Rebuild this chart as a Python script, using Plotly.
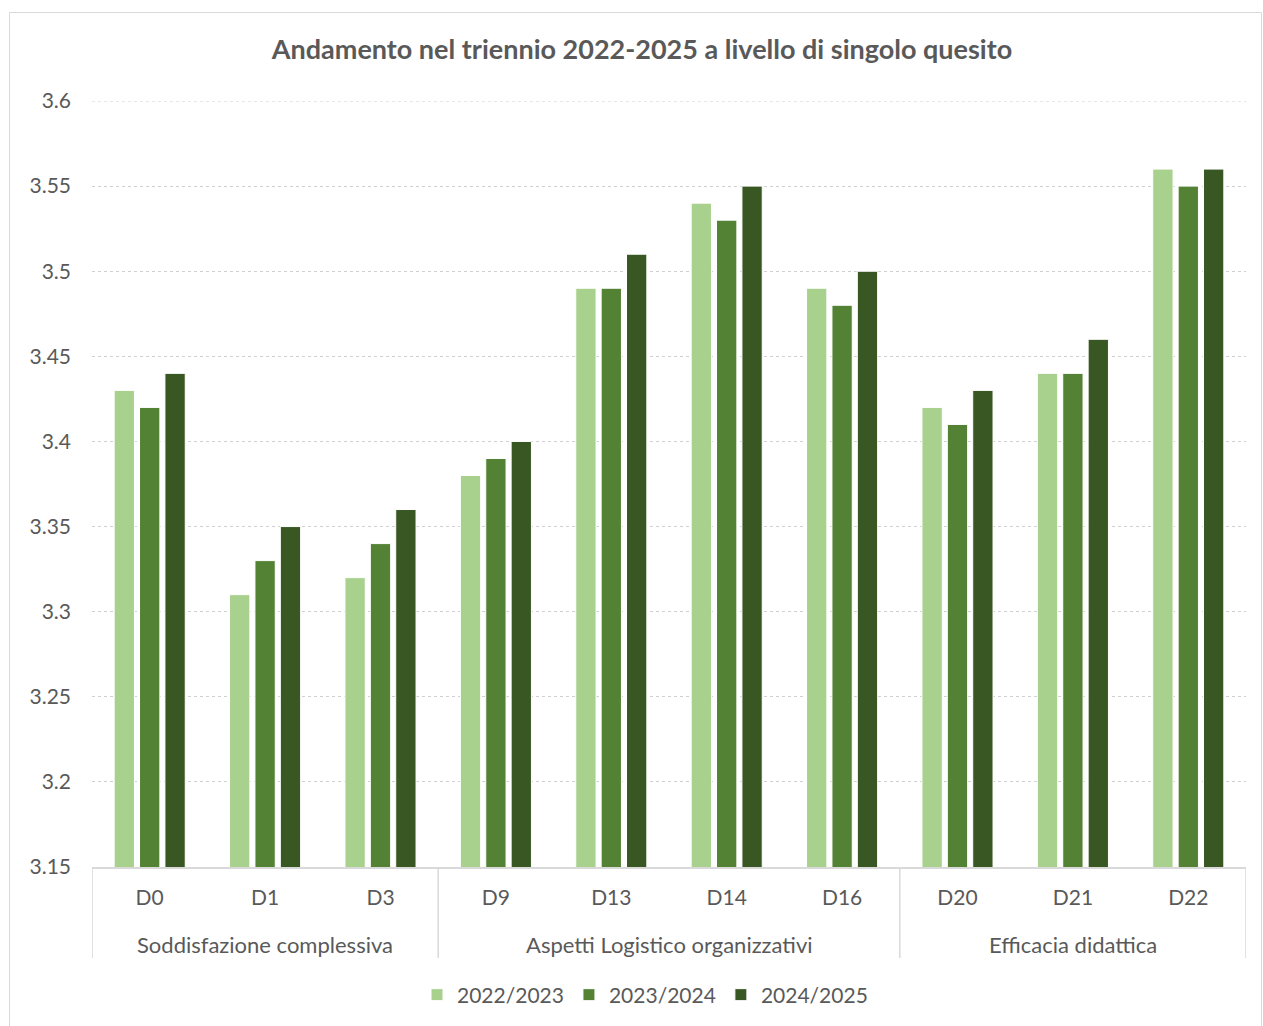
import plotly.graph_objects as go

categories = ["D0", "D1", "D3", "D9", "D13", "D14", "D16", "D20", "D21", "D22"]
groups = ["Soddisfazione complessiva", "Aspetti Logistico organizzativi", "Efficacia didattica"]
group_members = [["D0", "D1", "D3"], ["D9", "D13", "D14", "D16"], ["D20", "D21", "D22"]]
series_names = ["2022/2023", "2023/2024", "2024/2025"]
v2022 = [3.43, 3.31, 3.32, 3.38, 3.49, 3.54, 3.49, 3.42, 3.44, 3.56]
v2023 = [3.42, 3.33, 3.34, 3.39, 3.49, 3.53, 3.48, 3.41, 3.44, 3.55]
v2024 = [3.44, 3.35, 3.36, 3.40, 3.51, 3.55, 3.50, 3.43, 3.46, 3.56]
ytick_vals = [3.15, 3.2, 3.25, 3.3, 3.35, 3.4, 3.45, 3.5, 3.55, 3.6]
ytick_text = ["3.15", "3.2", "3.25", "3.3", "3.35", "3.4", "3.45", "3.5", "3.55", "3.6"]
title = "Andamento nel triennio 2022-2025 a livello di singolo quesito"

colors = ["#A9D18E", "#548235", "#385723"]
FONT = "Lato"
GREY = "#595959"
GRID = "#D0D0D0"

W, H = 1263, 1026
L, R, T, B = 92, 17, 101, 159
pw, ph = W - L - R, H - T - B

def px2paper_x(x):
    return (x - L) / pw

def px2paper_y(y):
    return (H - B - y) / ph

fig = go.Figure()
for name, vals, c in zip(series_names, [v2022, v2023, v2024], colors):
    fig.add_trace(go.Bar(x=categories, y=vals, name=name, marker=dict(color=c, line=dict(color="white", width=1))))

shapes = []
# outer chart border
shapes.append(dict(type="rect", xref="paper", yref="paper",
                   x0=px2paper_x(9.5), x1=px2paper_x(1261.5), y0=px2paper_y(1030), y1=px2paper_y(12.5),
                   line=dict(color="#D9D9D9", width=1), fillcolor="rgba(0,0,0,0)", layer="below"))
# top gridline (at the range edge)
shapes.append(dict(type="line", xref="paper", yref="y", x0=0, x1=1, y0=ytick_vals[-1], y1=ytick_vals[-1],
                   line=dict(color=GRID, width=1.2, dash="dot"), layer="below"))
# group dividers on category axis
ybot = px2paper_y(958)
boundaries = [-0.5]
idx = 0
for g in group_members:
    idx += len(g)
    boundaries.append(idx - 0.5)
for b in boundaries:
    shapes.append(dict(type="line", xref="x", yref="paper", x0=b, x1=b, y0=0, y1=ybot,
                       line=dict(color="#D9D9D9", width=1.5)))

annotations = []
start = 0
for gname, g in zip(groups, group_members):
    center = start + (len(g) - 1) / 2
    annotations.append(dict(x=center, xref="x", y=px2paper_y(944), yref="paper", text=gname,
                            showarrow=False, font=dict(family=FONT, size=22, color=GREY),
                            xanchor="center", yanchor="middle"))
    start += len(g)

fig.update_layout(
    width=W, height=H,
    margin=dict(l=L, r=R, t=T, b=B, autoexpand=False),
    paper_bgcolor="white", plot_bgcolor="white",
    font=dict(family=FONT, color=GREY),
    title=dict(text="<b>" + title + "</b>", x=px2paper_x(642), xref="paper", xanchor="center",
               y=1 - 50 / H, yanchor="middle", font=dict(family=FONT, size=27, color=GREY)),
    barmode="group", bargap=0.34, bargroupgap=0.2,
    showlegend=True,
    legend=dict(orientation="h", x=px2paper_x(645), xanchor="center", y=px2paper_y(995), yanchor="middle",
                font=dict(family=FONT, size=21, color=GREY), itemwidth=30, traceorder="normal"),
    shapes=shapes, annotations=annotations,
)
fig.update_xaxes(type="category", showline=True, linecolor="#D9D9D9", linewidth=1.5, showgrid=False,
                 ticks="", tickfont=dict(family=FONT, size=21, color=GREY), ticklabelstandoff=11,
                 range=[-0.5, len(categories) - 0.5])
fig.update_yaxes(range=[3.15, 3.6], tickvals=ytick_vals, ticktext=ytick_text, showgrid=True,
                 gridcolor=GRID, griddash="dot", gridwidth=1.2, zeroline=False, showline=False,
                 tickfont=dict(family=FONT, size=21, color=GREY), ticklabelstandoff=20)

fig.write_html("out.html", config={"displayModeBar": False},
               post_script="document.body.style.margin='0';document.body.style.padding='0';")
